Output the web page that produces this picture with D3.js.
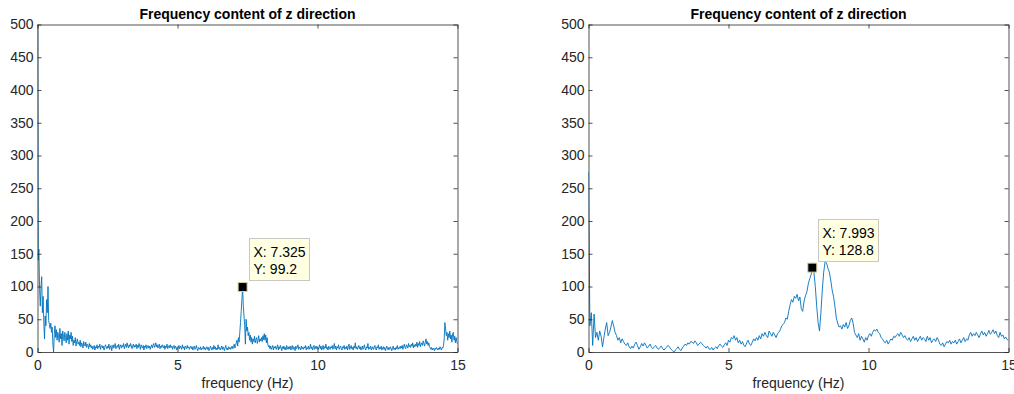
<!DOCTYPE html>
<html>
<head>
<meta charset="utf-8">
<script src="https://cdn.jsdelivr.net/npm/d3@7"></script>
<style>
  body { margin: 0; background: #fff; }
  svg { display: block; font-family: "Liberation Sans", Arial, sans-serif; }
</style>
</head>
<body>
<svg id="chart" width="1014" height="394"></svg>
<script>
const titleText = 'Frequency content of z direction';
const xLabel = 'frequency (Hz)';
const xTicks = [0, 5, 10, 15];
const yTicks = [0, 50, 100, 150, 200, 250, 300, 350, 400, 450, 500];

// left panel: bins every 0.025 Hz
const leftStep = 0.025;
const leftValues = [
  620, 140, 157, 95, 70, 100, 115, 60, 85, 45, 20, 55, 40, 80, 60, 100, 48, 42, 36, 44,
  30, 38, 12, 0, 28, 40, 22, 34, 18, 30, 25, 15, 36, 20, 28, 10, 32, 24, 17, 30,
  22, 14, 28, 18, 32, 12, 26, 20, 30, 16, 24, 10, 18, 14, 22, 9, 16, 20, 12, 15,
  10, 18, 8, 14, 12, 6, 16, 11, 9, 15, 7, 12, 10, 5, 13, 8, 11, 6, 9, 4,
  7, 10, 3, 8, 6, 11, 5, 9, 7, 12, 4, 8, 10, 6, 9, 3, 7, 11, 8, 5,
  9, 6, 12, 4, 8, 10, 2, 7, 11, 6, 9, 13, 5, 8, 10, 7, 12, 4, 9, 11,
  6, 10, 8, 13, 5, 9, 12, 7, 14, 9, 6, 11, 8, 13, 10, 5, 9, 12, 7, 10,
  8, 12, 5, 10, 7, 13, 9, 4, 11, 8, 6, 10, 3, 9, 7, 11, 5, 8, 10, 6,
  9, 4, 8, 11, 6, 10, 13, 7, 9, 14, 8, 11, 6, 10, 12, 5, 9, 7, 11, 8,
  6, 10, 4, 9, 7, 12, 5, 8, 10, 6, 11, 7, 9, 4, 8, 10, 5, 9, 7, 3,
  8, 6, 10, 5, 9, 7, 4, 11, 6, 8, 3, 9, 7, 5, 10, 6, 8, 4, 7, 9,
  5, 8, 3, 7, 9, 4, 6, 10, 5, 2, 7, 6, 4, 8, 3, 6, 5, 9, 4, 7,
  3, 6, 8, 4, 7, 2, 5, 9, 6, 3, 7, 4, 10, 5, 8, 3, 6, 4, 11, 5,
  7, 3, 6, 9, 4, 8, 5, 2, 7, 10, 4, 6, 3, 8, 5, 7, 4, 6, 9, 5,
  8, 12, 6, 10, 14, 18, 9, 22, 15, 30, 45, 62, 80, 99.2, 70, 55, 40, 12, 50, 32,
  38, 25, 30, 18, 26, 15, 22, 12, 20, 16, 24, 14, 19, 22, 13, 18, 25, 15, 20, 17,
  22, 16, 25, 19, 28, 18, 26, 14, 22, 12, 8, 10, 5, 9, 4, 7, 10, 3, 8, 6,
  9, 4, 7, 11, 3, 8, 5, 10, 6, 2, 8, 5, 9, 4, 7, 3, 10, 6, 4, 8,
  5, 9, 3, 7, 10, 4, 8, 6, 2, 9, 5, 7, 11, 4, 8, 6, 3, 9, 5, 7,
  4, 8, 6, 10, 3, 7, 5, 9, 4, 6, 12, 5, 8, 3, 7, 10, 4, 6, 9, 5,
  8, 4, 7, 11, 5, 9, 3, 6, 10, 4, 8, 6, 12, 5, 7, 3, 9, 6, 4, 8,
  6, 10, 4, 7, 13, 5, 9, 3, 8, 6, 11, 4, 7, 9, 5, 3, 8, 6, 10, 4,
  7, 5, 9, 3, 8, 12, 4, 6, 10, 5, 7, 3, 9, 6, 14, 5, 8, 4, 7, 10,
  5, 8, 3, 6, 9, 4, 7, 11, 5, 3, 8, 6, 13, 4, 7, 5, 9, 3, 6, 8,
  4, 7, 10, 5, 3, 8, 6, 11, 4, 7, 5, 9, 3, 6, 8, 4, 7, 2, 6, 9,
  5, 3, 7, 4, 8, 6, 2, 5, 9, 4, 6, 3, 7, 5, 10, 4, 6, 8, 5, 9,
  6, 10, 4, 8, 12, 7, 5, 11, 9, 6, 13, 8, 10, 7, 12, 9, 14, 6, 11, 8,
  12, 9, 15, 7, 13, 10, 16, 8, 12, 14, 10, 17, 13, 9, 15, 20, 12, 16, 10, 14,
  8, 6, 4, 7, 3, 6, 5, 2, 6, 4, 7, 5, 3, 6, 4, 8, 5, 3, 7, 6,
  10, 20, 45, 35, 25, 30, 18, 28, 22, 32, 20, 26, 15, 28, 30, 18, 24, 14, 22, 16,
  12
];

// right panel: bins every 0.05 Hz
const rightStep = 0.05;
const rightValues = [
  275, 40, 60, 10, 58, 22, 30, 18, 32, 24, 8, 22, 35, 45, 25, 30, 38, 48, 40, 30,
  25, 18, 22, 14, 20, 16, 12, 10, 14, 8, 5, 9, 6, 12, 15, 10, 4, 8, 13, 9,
  14, 10, 6, 9, 12, 7, 5, 8, 10, 6, 4, 7, 9, 5, 3, 6, 8, 10, 7, 4,
  2, 0, 3, 5, 8, 4, 2, 6, 9, 12, 10, 14, 12, 16, 15, 13, 17, 14, 10, 12,
  15, 13, 10, 8, 6, 9, 5, 4, 7, 3, 6, 8, 5, 10, 12, 9, 7, 11, 14, 10,
  18, 15, 22, 20, 25, 18, 22, 14, 18, 12, 16, 10, 8, 14, 18, 12, 10, 15, 20, 17,
  22, 18, 25, 20, 28, 24, 30, 25, 22, 32, 28, 24, 30, 26, 22, 28, 30, 34, 40, 42,
  45, 52, 50, 62, 72, 80, 76, 85, 82, 88, 78, 84, 66, 62, 78, 86, 92, 104, 112, 118,
  128.8, 122, 100, 70, 45, 32, 60, 95, 122, 138, 136, 128, 122, 110, 95, 85, 70, 52, 44, 38,
  40, 35, 42, 38, 45, 36, 40, 48, 52, 44, 30, 26, 22, 28, 18, 24, 20, 15, 22, 18,
  25, 28, 24, 30, 34, 32, 35, 30, 28, 22, 20, 16, 14, 18, 12, 16, 20, 18, 24, 22,
  26, 28, 24, 30, 26, 22, 25, 20, 18, 22, 16, 20, 24, 18, 22, 16, 20, 24, 18, 22,
  20, 16, 24, 18, 22, 14, 18, 20, 16, 22, 18, 12, 10, 14, 8, 12, 16, 14, 18, 12,
  16, 14, 18, 12, 16, 20, 14, 18, 22, 16, 20, 18, 26, 30, 24, 28, 25, 30, 26, 22,
  28, 32, 26, 30, 24, 28, 33, 27, 30, 34, 28, 32, 25, 22, 30, 24, 26, 20, 23, 19,
  18
];

const leftTip = { x: 7.325, y: 99.2 };
const rightTip = { x: 7.993, y: 128.8 };

const svg = d3.select('#chart');
const PLOT_W = 420;
const TOP = 24.5, BOTTOM = 352;
const AXIS_COLOR = '#262626';
const FONT = '14px';

function drawPanel(id, left, values, step, tip) {
  const x = d3.scaleLinear().domain([0, 15]).range([left, left + PLOT_W]);
  const y = d3.scaleLinear().domain([0, 500]).range([BOTTOM, TOP]);
  const g = svg.append('g');

  g.append('clipPath').attr('id', id)
    .append('rect')
    .attr('x', left).attr('y', TOP)
    .attr('width', PLOT_W).attr('height', BOTTOM - TOP);

  const line = d3.line()
    .x((d, i) => x(i * step))
    .y(d => y(d));

  g.append('path')
    .datum(values)
    .attr('clip-path', `url(#${id})`)
    .attr('fill', 'none')
    .attr('stroke', '#0072BD')
    .attr('stroke-width', 0.9)
    .attr('stroke-linejoin', 'round')
    .attr('d', line);

  // box with inward ticks on all four sides
  const axes = [
    [d3.axisBottom(x).tickValues(xTicks).tickPadding(8), `translate(0,${BOTTOM})`, true],
    [d3.axisTop(x).tickValues(xTicks), `translate(0,${TOP})`, false],
    [d3.axisLeft(y).tickValues(yTicks).tickPadding(4), `translate(${left},0)`, true],
    [d3.axisRight(y).tickValues(yTicks), `translate(${left + PLOT_W},0)`, false],
  ];
  axes.forEach(([axis, transform, labels]) => {
    const a = g.append('g')
      .attr('transform', transform)
      .call(axis.tickSizeInner(-4).tickSizeOuter(0));
    a.select('.domain').attr('stroke', AXIS_COLOR).attr('stroke-width', 0.8);
    a.selectAll('.tick line').attr('stroke', AXIS_COLOR).attr('stroke-width', 0.8);
    a.selectAll('.tick text')
      .attr('fill', AXIS_COLOR)
      .style('font-size', FONT)
      .style('font-family', '"Liberation Sans", Arial, sans-serif');
    if (!labels) a.selectAll('.tick text').remove();
  });

  const cx = left + PLOT_W / 2;
  g.append('text')
    .attr('x', cx).attr('y', 19)
    .attr('text-anchor', 'middle')
    .style('font-size', FONT)
    .style('font-weight', 'bold')
    .attr('fill', '#000')
    .text(titleText);

  g.append('text')
    .attr('x', cx).attr('y', 388)
    .attr('text-anchor', 'middle')
    .style('font-size', FONT)
    .attr('fill', AXIS_COLOR)
    .text(xLabel);

  // data tip
  const mx = x(tip.x), my = y(tip.y);
  const tipG = g.append('g');
  const box = tipG.append('rect')
    .attr('fill', '#ffffe1')
    .attr('stroke', '#c8c8c0')
    .attr('stroke-width', 1);
  const boxLeft = Math.round(mx) + 6.5;
  const boxTop = Math.round(my) - 48.5;
  const lines = [`X: ${tip.x}`, `Y: ${tip.y}`];
  const texts = tipG.selectAll('text.tip')
    .data(lines)
    .join('text')
    .attr('class', 'tip')
    .attr('x', boxLeft + 4)
    .attr('y', (d, i) => boxTop + 18 + i * 17.5)
    .style('font-size', FONT)
    .attr('fill', '#000')
    .text(d => d);
  const maxLen = d3.max(texts.nodes(), n => n.getComputedTextLength());
  box.attr('x', boxLeft).attr('y', boxTop)
    .attr('width', Math.round(maxLen + 8)).attr('height', 42);

  tipG.append('rect')
    .attr('x', mx - 4.5).attr('y', my - 4.5)
    .attr('width', 9).attr('height', 9)
    .attr('fill', '#000')
    .attr('stroke', '#d8d0a0')
    .attr('stroke-width', 1);
}

drawPanel('clip-left', 37.5, leftValues, leftStep, leftTip);
drawPanel('clip-right', 588.5, rightValues, rightStep, rightTip);
</script>
</body>
</html>
